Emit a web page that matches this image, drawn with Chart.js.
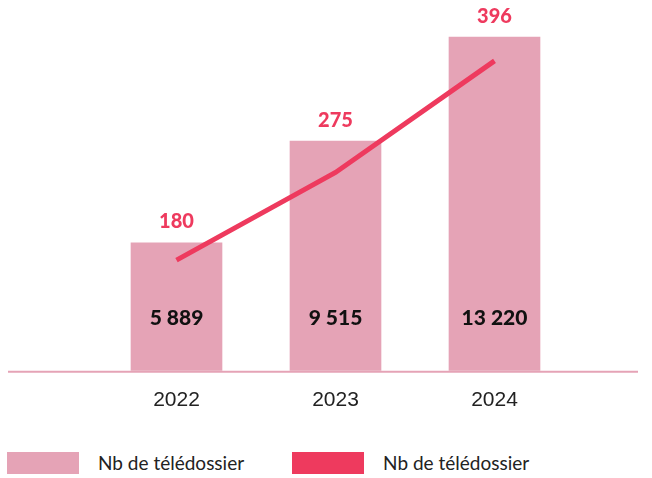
<!DOCTYPE html>
<html lang="fr">
<head>
<meta charset="UTF-8">
<title>Nb de télédossier</title>
<script src="https://cdn.jsdelivr.net/npm/chart.js"></script>
<style>
    html, body { margin: 0; padding: 0; background: #fff; }
    body { width: 652px; height: 478px; overflow: hidden; font-family: Lato, 'Noto Sans', sans-serif; }
    .wrap { position: relative; width: 652px; height: 430px; }
    .legend { position: absolute; top: 451px; left: 7px; display: flex; align-items: center; color: #222; font-size: 19px; }
    .legend .item { display: flex; align-items: center; }
    .legend .box { width: 72px; height: 22px; margin-right: 19px; }
    .legend .item + .item { margin-left: 48px; }
</style>
</head>
<body>
<div class="wrap"><canvas id="chart" width="652" height="430"></canvas></div>
<div class="legend">
    <div class="item"><span class="box" style="background:#e5a3b6"></span><span>Nb de télédossier</span></div>
    <div class="item"><span class="box" style="background:#ee3a5e"></span><span>Nb de télédossier</span></div>
</div>
<script>
const years = ['2022', '2023', '2024'];
const dossiers = [5889, 9515, 13220];
const teledossiers = [180, 275, 396];

const pink = '#e5a3b6';
const red = '#ee3a5e';

function fmt(v) {
    return String(v).replace(/\B(?=(\d{3})+(?!\d))/g, ' ');
}

// baseline across the whole width + value labels
const extras = {
    id: 'extras',
    beforeDatasetsDraw(chart) {
        const ctx = chart.ctx;
        const y = chart.chartArea.bottom + 1;
        ctx.save();
        ctx.strokeStyle = pink;
        ctx.lineWidth = 2;
        ctx.beginPath();
        ctx.moveTo(8, y);
        ctx.lineTo(638, y);
        ctx.stroke();
        ctx.restore();
    },
    afterDatasetsDraw(chart) {
        const ctx = chart.ctx;
        const bars = chart.getDatasetMeta(1).data;
        ctx.save();
        ctx.textAlign = 'center';
        ctx.textBaseline = 'middle';
        bars.forEach((bar, i) => {
            ctx.font = '900 21px Lato, sans-serif';
            ctx.fillStyle = '#111';
            ctx.fillText(fmt(dossiers[i]), bar.x, chart.chartArea.bottom - 53);
            ctx.fillStyle = red;
            ctx.font = '900 20px Lato, sans-serif';
            ctx.fillText(fmt(teledossiers[i]), bar.x, bar.y - 21);
        });
        ctx.restore();
    }
};

new Chart(document.getElementById('chart'), {
    data: {
        labels: years,
        datasets: [
            {
                type: 'line',
                label: 'Nb de télédossier',
                data: teledossiers,
                yAxisID: 'y1',
                borderColor: red,
                backgroundColor: red,
                borderWidth: 5,
                pointRadius: 0,
                tension: 0
            },
            {
                type: 'bar',
                label: 'Nb de télédossier',
                data: dossiers,
                yAxisID: 'y',
                backgroundColor: pink,
                barThickness: 91
            }
        ]
    },
    options: {
        responsive: false,
        animation: false,
        layout: { padding: { left: 97, right: 78, top: 0, bottom: 0 } },
        plugins: {
            legend: { display: false },
            tooltip: { enabled: false }
        },
        scales: {
            x: {
                grid: { display: false, drawTicks: false },
                border: { display: false },
                ticks: { color: '#222', font: { family: 'Liberation Sans', size: 21 }, padding: 17 }
            },
            y: { display: false, min: 1335, max: 14540 },
            y1: { display: false, min: 60, max: 462 }
        }
    },
    plugins: [extras]
});
</script>
</body>
</html>
